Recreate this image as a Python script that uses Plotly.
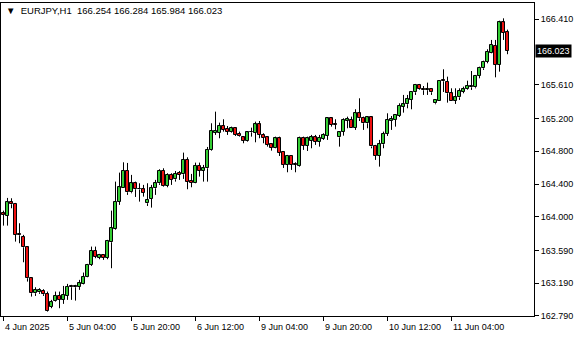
import plotly.graph_objects as go

open_ = [164.041,164.010,164.177,164.157,163.785,163.758,163.628,163.250,163.067,163.079,
 163.095,163.055,162.904,162.977,163.034,162.986,163.038,163.156,163.140,163.148,
 163.181,163.270,163.413,163.583,163.502,163.535,163.502,163.689,163.848,164.185,
 164.356,164.559,164.299,164.409,164.340,164.336,164.165,164.218,164.348,164.409,
 164.559,164.380,164.511,164.458,164.539,164.519,164.694,164.437,164.417,164.620,
 164.559,164.592,164.816,165.027,165.027,165.108,165.072,165.039,165.080,165.011,
 164.970,164.929,165.031,165.023,165.129,164.999,164.970,164.885,164.844,164.958,
 164.795,164.633,164.746,164.645,164.620,164.966,164.864,164.925,164.970,164.917,
 164.950,164.990,165.202,165.133,164.970,165.039,165.169,165.182,165.088,165.263,
 165.210,165.141,165.214,164.864,164.746,164.885,165.011,165.173,165.182,165.230,
 165.344,165.373,165.426,165.519,165.609,165.560,165.544,165.560,165.385,165.417,
 165.670,165.649,165.507,165.417,165.458,165.527,165.556,165.580,165.580,165.718,
 165.812,165.893,166.003,166.084,165.853,166.373,166.254]
high = [164.075,164.230,164.226,164.169,163.921,163.779,163.632,163.254,163.140,163.128,
 163.116,163.087,162.986,163.087,163.087,163.156,163.181,163.169,163.169,163.230,
 163.319,163.425,163.636,163.636,163.547,163.541,163.718,164.075,164.429,164.539,
 164.665,164.657,164.511,164.429,164.409,164.389,164.409,164.389,164.450,164.580,
 164.592,164.531,164.531,164.559,164.559,164.783,164.726,164.523,164.661,164.661,
 164.633,164.852,165.141,165.283,165.149,165.190,165.108,165.100,165.084,165.039,
 164.978,165.039,165.088,165.161,165.169,165.019,164.978,164.897,164.978,164.978,
 164.795,164.755,164.746,164.665,164.978,164.978,164.978,164.999,164.999,164.999,
 165.019,165.210,165.210,165.190,165.039,165.202,165.222,165.222,165.312,165.446,
 165.222,165.222,165.222,164.877,164.938,165.039,165.263,165.230,165.243,165.385,
 165.487,165.487,165.519,165.621,165.621,165.596,165.637,165.560,165.434,165.661,
 165.800,165.710,165.568,165.568,165.568,165.588,165.661,165.779,165.731,165.832,
 165.905,166.044,166.158,166.158,166.393,166.422,166.284]
low = [163.892,163.892,164.104,163.697,163.677,163.445,163.209,163.026,163.034,163.059,
 163.034,162.843,162.884,162.965,162.884,162.937,162.986,162.986,162.977,163.108,
 163.175,163.262,163.400,163.494,163.482,163.474,163.482,163.372,163.840,164.145,
 164.352,164.267,164.287,164.242,164.185,164.246,164.132,164.112,164.267,164.389,
 164.368,164.360,164.389,164.429,164.450,164.462,164.336,164.360,164.409,164.490,
 164.429,164.429,164.807,164.999,164.958,165.039,164.999,165.027,164.986,164.978,
 164.897,164.917,164.978,164.909,164.958,164.897,164.856,164.807,164.836,164.742,
 164.596,164.543,164.572,164.543,164.612,164.816,164.803,164.836,164.877,164.856,
 164.938,164.938,165.100,165.068,164.856,164.990,165.080,165.080,165.060,165.169,
 165.060,165.080,164.836,164.694,164.612,164.836,164.986,165.060,165.100,165.218,
 165.271,165.324,165.312,165.487,165.548,165.487,165.487,165.487,165.373,165.417,
 165.523,165.393,165.413,165.377,165.426,165.507,165.548,165.548,165.568,165.690,
 165.792,165.873,165.995,165.702,165.771,166.158,165.984]
close = [164.023,164.177,164.153,163.779,163.775,163.628,163.250,163.067,163.108,163.108,
 163.055,162.851,162.957,163.034,162.986,163.047,163.148,163.140,163.156,163.189,
 163.270,163.413,163.583,163.514,163.535,163.502,163.705,163.860,164.185,164.360,
 164.559,164.299,164.409,164.336,164.334,164.295,164.206,164.348,164.409,164.559,
 164.376,164.511,164.450,164.523,164.511,164.694,164.429,164.417,164.620,164.559,
 164.592,164.816,165.047,165.047,165.108,165.060,165.039,165.080,164.999,164.986,
 164.929,165.031,165.039,165.129,164.999,164.966,164.877,164.844,164.958,164.783,
 164.633,164.746,164.633,164.637,164.966,164.868,164.958,164.970,164.917,164.966,
 164.999,165.202,165.121,165.125,165.031,165.182,165.190,165.080,165.263,165.202,
 165.141,165.214,164.858,164.746,164.885,165.011,165.182,165.190,165.243,165.352,
 165.373,165.438,165.519,165.609,165.556,165.544,165.560,165.519,165.426,165.661,
 165.654,165.507,165.417,165.458,165.535,165.556,165.596,165.596,165.718,165.820,
 165.893,166.015,166.097,165.853,166.373,166.247,166.023]

time_labels = ["4 Jun 2025", "5 Jun 04:00", "5 Jun 20:00", "6 Jun 12:00",
               "9 Jun 04:00", "9 Jun 20:00", "10 Jun 12:00", "11 Jun 04:00"]
time_label_index = [0, 16, 32, 48, 64, 80, 96, 112]
price_ticks = [162.79, 163.19, 163.59, 164.00, 164.40, 164.80, 165.20, 165.61, 166.41]
price_tick_text = ["162.790", "163.190", "163.590", "164.000", "164.400",
                   "164.800", "165.200", "165.610", "166.410"]
symbol = "EURJPY,H1"
last_price = close[-1]

FONT = "Liberation Sans, Arial, sans-serif"
BULL = "#33CC33"
BEAR = "#EE1111"
n = len(open_)
x = list(range(n))

body_lo = [min(o, c) for o, c in zip(open_, close)]
body_hi = [max(o, c) for o, c in zip(open_, close)]

wx, wy = [], []
for i in range(n):
    wx += [i, i, None, i, i, None]
    wy += [high[i], body_hi[i], None, body_lo[i], low[i], None]

fig = go.Figure()
fig.add_trace(go.Scatter(x=wx, y=wy, mode="lines",
                         line=dict(color="black", width=1),
                         hoverinfo="skip", connectgaps=False))
fig.add_trace(go.Bar(x=x, base=body_lo,
                     y=[h - l for h, l in zip(body_hi, body_lo)],
                     width=0.75,
                     marker=dict(color=[BULL if c >= o else BEAR for o, c in zip(open_, close)],
                                 line=dict(color="black", width=1)),
                     hoverinfo="skip"))

annotations = []
for idx, lab in zip(time_label_index, time_labels):
    annotations.append(dict(x=idx - 0.25, y=0, xref="x", yref="paper", text=lab,
                            showarrow=False, xanchor="left", yanchor="top", yshift=-4,
                            font=dict(family=FONT, size=9, color="black")))
annotations.append(dict(x=0, y=1, xref="paper", yref="paper",
                        text="\u25bc\u00a0\u00a0" + symbol + "\u00a0\u00a0" +
                        "\u00a0".join(f"{v:.3f}" for v in (open_[-1], high[-1], low[-1], close[-1])),
                        showarrow=False, xanchor="left", yanchor="top", xshift=3, yshift=0,
                        font=dict(family=FONT, size=9.5, color="black")))
annotations.append(dict(x=1, y=last_price, xref="paper", yref="y", text=f"{last_price:.3f}",
                        showarrow=False, xanchor="left", yanchor="middle", xshift=1,
                        bgcolor="black", borderpad=1,
                        font=dict(family=FONT, size=9, color="white")))

fig.update_layout(
    width=580, height=340,
    margin=dict(l=1, r=46, t=3, b=24),
    paper_bgcolor="white", plot_bgcolor="white",
    showlegend=False, bargap=0,
    annotations=annotations,
    xaxis=dict(range=[-0.625, 132.625],
               tickvals=time_label_index, showticklabels=False,
               ticks="outside", ticklen=4, tickcolor="black",
               showgrid=False, zeroline=False,
               showline=True, linecolor="black", linewidth=1, mirror=True),
    yaxis=dict(range=[162.789, 166.609], side="right",
               tickvals=price_ticks, ticktext=price_tick_text,
               ticks="outside", ticklen=4, tickcolor="black",
               tickfont=dict(family=FONT, size=9, color="black"),
               showgrid=False, zeroline=False,
               showline=True, linecolor="black", linewidth=1, mirror=True),
)

fig.write_html("out.html")
